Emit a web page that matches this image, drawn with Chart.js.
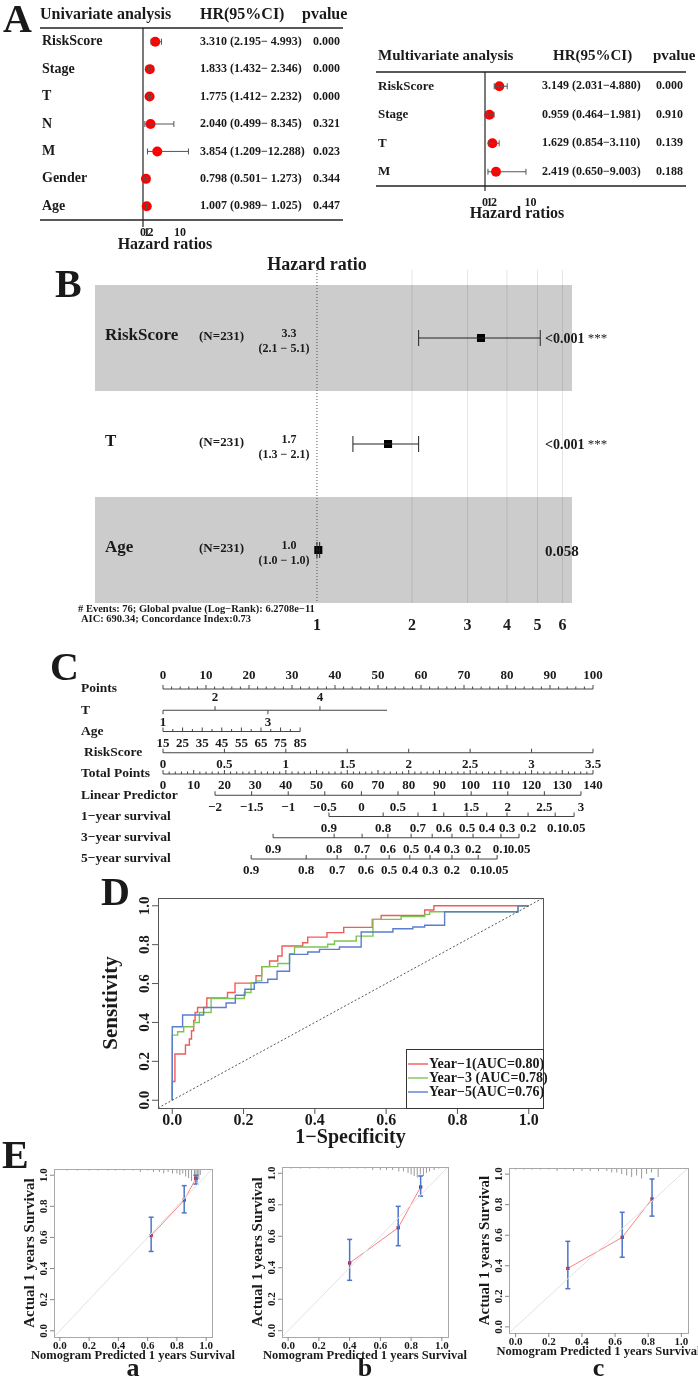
<!DOCTYPE html>
<html>
<head>
<meta charset="utf-8">
<title>Risk model figure</title>
<script src="https://cdn.jsdelivr.net/npm/chart.js@4.4.1/dist/chart.umd.min.js"></script>
<style>
  body { margin: 0; background: #fff; }
  #fig { position: relative; width: 698px; height: 1379px; overflow: hidden; background: #fff; }
  #fig canvas { position: absolute; left: 0; top: 0; }
</style>
</head>
<body>
<div id="fig"></div>
<script>
// ---------- A: univariate cox
const uniVars = ['RiskScore', 'Stage', 'T', 'N', 'M', 'Gender', 'Age'];
const uniHR = [3.310, 1.833, 1.775, 2.040, 3.854, 0.798, 1.007];
const uniLow = [2.195, 1.432, 1.412, 0.499, 1.209, 0.501, 0.989];
const uniHigh = [4.993, 2.346, 2.232, 8.345, 12.288, 1.273, 1.025];
const uniP = ['0.000', '0.000', '0.000', '0.321', '0.023', '0.344', '0.447'];

// ---------- A: multivariate cox
const multiVars = ['RiskScore', 'Stage', 'T', 'M'];
const multiHR = [3.149, 0.959, 1.629, 2.419];
const multiLow = [2.031, 0.464, 0.854, 0.650];
const multiHigh = [4.880, 1.981, 3.110, 9.003];
const multiP = ['0.000', '0.910', '0.139', '0.188'];
const hrTicks = [0, 1, 2, 10];

// ---------- B: forest plot
const coxVars = ['RiskScore', 'T', 'Age'];
const coxN = [231, 231, 231];
const coxHR = [3.31, 1.68, 1.01];
const coxLow = [2.1, 1.3, 1.0];
const coxHigh = [5.1, 2.1, 1.02];
const coxP = ['<0.001', '<0.001', '0.058'];
const coxStars = ['***', '***', ''];
const coxTicks = [1, 2, 3, 4, 5, 6];
const coxFooter = ['# Events: 76; Global pvalue (Log\u2212Rank): 6.2708e\u221211', 'AIC: 690.34; Concordance Index:0.73'];

// ---------- C: nomogram (positions on the 0-100 points scale)
const nomoRows = ['Points', 'T', 'Age', 'RiskScore', 'Total Points', 'Linear Predictor', '1\u2212year survival', '3\u2212year survival', '5\u2212year survival'];
const pointsTicks = [0, 10, 20, 30, 40, 50, 60, 70, 80, 90, 100];
const tLevels = ['1', '2', '3', '4'];
const tPoints = [0, 12.1, 24.4, 36.5];
const tLineEnd = 52.1;
const ageTicks = [15, 25, 35, 45, 55, 65, 75, 85];
const ageMaxPoints = 31.9;
const riskTicks = [0, 0.5, 1, 1.5, 2, 2.5, 3, 3.5];
const totalTicks = [0, 10, 20, 30, 40, 50, 60, 70, 80, 90, 100, 110, 120, 130, 140];
const lpTicks = [-2, -1.5, -1, -0.5, 0, 0.5, 1, 1.5, 2, 2.5, 3];
const lpPointsRange = [12.1, 97.2];
const survTicks = ['0.9', '0.8', '0.7', '0.6', '0.5', '0.4', '0.3', '0.2', '0.1', '0.05'];
const surv1Points = [38.6, 51.2, 59.3, 65.3, 70.7, 75.3, 80.0, 84.9, 91.2, 95.6];
const surv3Points = [25.6, 39.8, 46.3, 52.3, 57.7, 62.6, 67.2, 72.1, 78.6, 82.8];
const surv5Points = [20.5, 33.3, 40.5, 47.2, 52.6, 57.4, 62.1, 67.2, 73.3, 77.7];

// ---------- D: time dependent ROC
const rocFpr1 = [0, 0, 0.0075, 0.037, 0.048, 0.054, 0.06, 0.064, 0.071, 0.097, 0.155, 0.176, 0.235, 0.251, 0.273, 0.296, 0.308, 0.366, 0.38, 0.434, 0.481, 0.561, 0.586, 0.708, 0.734, 1.0];
const rocTpr1 = [0, 0.096, 0.238, 0.284, 0.315, 0.357, 0.41, 0.451, 0.477, 0.526, 0.554, 0.602, 0.64, 0.687, 0.716, 0.742, 0.793, 0.81, 0.839, 0.862, 0.889, 0.93, 0.95, 0.978, 1.0, 1.0];
const rocFpr3 = [0, 0, 0.015, 0.032, 0.06, 0.076, 0.109, 0.202, 0.221, 0.235, 0.251, 0.296, 0.329, 0.343, 0.436, 0.455, 0.516, 0.563, 0.642, 0.708, 0.722, 0.97, 1.0];
const rocTpr3 = [0, 0.335, 0.352, 0.378, 0.4, 0.451, 0.523, 0.554, 0.605, 0.614, 0.687, 0.703, 0.754, 0.788, 0.802, 0.819, 0.844, 0.93, 0.944, 0.956, 0.969, 1.0, 1.0];
const rocFpr5 = [0, 0, 0.029, 0.088, 0.151, 0.177, 0.204, 0.23, 0.268, 0.294, 0.329, 0.38, 0.413, 0.469, 0.53, 0.619, 0.675, 0.708, 0.764, 0.97, 1.0];
const rocTpr5 = [0, 0.378, 0.438, 0.477, 0.5, 0.54, 0.571, 0.605, 0.622, 0.663, 0.75, 0.762, 0.776, 0.788, 0.865, 0.882, 0.891, 0.9, 0.969, 1.0, 1.0];
const rocLabels = ['Year\u22121(AUC=0.80)', 'Year\u22123 (AUC=0.78)', 'Year\u22125(AUC=0.76)'];
const rocTicks = [0, 0.2, 0.4, 0.6, 0.8, 1.0];

// ---------- E: calibration
const calPredA = [0.624, 0.85, 0.93], calObsA = [0.612, 0.84, 0.98], calLoA = [0.51, 0.758, 0.943], calHiA = [0.73, 0.933, 1.0];
const calPredB = [0.40, 0.716, 0.862], calObsB = [0.43, 0.654, 0.913], calLoB = [0.32, 0.54, 0.855], calHiB = [0.58, 0.79, 0.983];
const calPredC = [0.315, 0.643, 0.823], calObsC = [0.383, 0.586, 0.838], calLoC = [0.25, 0.456, 0.725], calHiC = [0.56, 0.75, 0.968];
const rugXA = [0.05, 0.12, 0.2, 0.26, 0.33, 0.38, 0.44, 0.5, 0.55, 0.6, 0.64, 0.68, 0.71, 0.74, 0.77, 0.8, 0.82, 0.84, 0.86, 0.88, 0.9, 0.92, 0.93, 0.94, 0.95, 0.96];
const rugNA = [1, 1, 1, 1, 1, 1, 1, 1, 2, 1, 2, 2, 3, 2, 3, 3, 4, 3, 5, 6, 8, 7, 5, 9, 7, 4];
const rugXB = [0.02, 0.08, 0.14, 0.2, 0.26, 0.3, 0.35, 0.4, 0.45, 0.5, 0.55, 0.6, 0.64, 0.68, 0.72, 0.75, 0.78, 0.8, 0.82, 0.84, 0.86, 0.88, 0.9, 0.92, 0.95, 0.98];
const rugNB = [1, 1, 1, 1, 1, 1, 1, 1, 1, 1, 2, 2, 2, 2, 3, 3, 4, 5, 6, 7, 5, 6, 4, 3, 2, 1];
const rugXC = [0.0, 0.05, 0.1, 0.15, 0.2, 0.25, 0.3, 0.35, 0.4, 0.45, 0.5, 0.55, 0.58, 0.61, 0.64, 0.67, 0.7, 0.73, 0.76, 0.79, 0.82, 0.86];
const rugNC = [1, 1, 1, 1, 1, 2, 1, 2, 2, 2, 2, 2, 3, 3, 4, 5, 6, 5, 7, 4, 3, 6];
const calTicks = [0, 0.2, 0.4, 0.6, 0.8, 1.0];

// ---------- helpers
const W = 698, H = 1379;
const FONT = '"Liberation Serif", "Times New Roman", serif';
const INK = '#1a1a1a';
Chart.defaults.font.family = FONT;
const fig = document.getElementById('fig');

function txt(ctx, s, x, y, size, o) {
  o = o || {};
  ctx.save();
  ctx.font = (o.weight || 'bold') + ' ' + size + 'px ' + FONT;
  ctx.fillStyle = o.color || INK;
  ctx.textAlign = o.align || 'left';
  ctx.textBaseline = o.base || 'middle';
  ctx.translate(x, y);
  if (o.rot) ctx.rotate(o.rot);
  ctx.fillText(s, 0, 0);
  const w = ctx.measureText(s).width;
  ctx.restore();
  return w;
}

function seg(ctx, x1, y1, x2, y2, color, w, dash) {
  ctx.save();
  ctx.beginPath();
  ctx.strokeStyle = color;
  ctx.lineWidth = w || 1;
  if (dash) ctx.setLineDash(dash);
  ctx.moveTo(x1, y1);
  ctx.lineTo(x2, y2);
  ctx.stroke();
  ctx.restore();
}

function panel(box, xs, ys, datasets, hooks) {
  const cv = document.createElement('canvas');
  cv.width = W; cv.height = H;
  fig.appendChild(cv);
  return new Chart(cv, {
    type: 'scatter',
    data: { datasets: datasets.map(d => Object.assign({ clip: false }, d)) },
    options: {
      responsive: false, animation: false, events: [],
      layout: { padding: { left: box[0], top: box[1], right: W - box[2], bottom: H - box[3] } },
      scales: {
        x: Object.assign({ display: false, bounds: 'data' }, xs),
        y: Object.assign({ display: false, bounds: 'data' }, ys)
      },
      plugins: { legend: { display: false }, tooltip: { enabled: false }, colors: { enabled: false } }
    },
    plugins: [{
      id: 'deco',
      beforeDatasetsDraw: c => hooks.before && hooks.before(c, c.ctx, c.scales.x, c.scales.y),
      afterDatasetsDraw: c => hooks.after && hooks.after(c, c.ctx, c.scales.x, c.scales.y)
    }]
  });
}

// horizontal CI segments with end caps
function ciSets(lo, hi, rows, color, cap, width) {
  return lo.map((l, i) => ({
    data: [{ x: l, y: rows[i] }, { x: hi[i], y: rows[i] }],
    showLine: true, borderColor: color, borderWidth: width, backgroundColor: color,
    pointStyle: 'line', rotation: 90, pointRadius: cap, pointBorderWidth: width, pointBorderColor: color
  }));
}

function hrLabel(hr, lo, hi, pad) {
  const h = hi.toFixed(3);
  return hr.toFixed(3) + ' (' + lo.toFixed(3) + '\u2212' + (pad ? h.padStart(6, ' ') : h) + ')';
}

// ---------- A left
panel([143, 28, 217, 220],
  { type: 'linear', min: 0, max: 20 },
  { type: 'linear', min: -0.5, max: uniVars.length - 0.5, reverse: true },
  [...ciSets(uniLow, uniHigh, uniVars.map((_, i) => i), '#555', 3, 1),
   { data: uniHR.map((v, i) => ({ x: v, y: i })), pointRadius: 5, pointBackgroundColor: '#ff0000', pointBorderColor: '#ff0000', pointBorderWidth: 0 }],
  {
    before: (c, ctx, x) => {
      seg(ctx, 40, 28, 343, 28, '#222', 1.5);
      seg(ctx, 40, 220, 343, 220, '#222', 1.5);
      seg(ctx, x.getPixelForValue(0), 28, x.getPixelForValue(0), 227, '#222', 1.2);
    },
    after: (c, ctx, x, y) => {
      txt(ctx, 'A', 3, 32, 40, { base: 'alphabetic' });
      txt(ctx, 'Univariate analysis', 40, 15, 16);
      txt(ctx, 'HR(95%CI)', 200, 15, 16);
      txt(ctx, 'pvalue', 302, 15, 16);
      uniVars.forEach((v, i) => {
        const py = y.getPixelForValue(i);
        txt(ctx, v, 42, py, 14);
        txt(ctx, hrLabel(uniHR[i], uniLow[i], uniHigh[i], true), 200, py, 12);
        txt(ctx, uniP[i], 313, py, 12);
      });
      hrTicks.forEach(t => txt(ctx, String(t), x.getPixelForValue(t), 233, 12, { align: 'center' }));
      txt(ctx, 'Hazard ratios', 165, 245, 16, { align: 'center' });
    }
  });

// ---------- A right
panel([485, 72, 576, 186],
  { type: 'linear', min: 0, max: 20 },
  { type: 'linear', min: -0.5, max: multiVars.length - 0.5, reverse: true },
  [...ciSets(multiLow, multiHigh, multiVars.map((_, i) => i), '#555', 3, 1),
   { data: multiHR.map((v, i) => ({ x: v, y: i })), pointRadius: 5, pointBackgroundColor: '#ff0000', pointBorderColor: '#ff0000', pointBorderWidth: 0 }],
  {
    before: (c, ctx, x) => {
      seg(ctx, 376, 72, 686, 72, '#222', 1.5);
      seg(ctx, 376, 186, 686, 186, '#222', 1.5);
      seg(ctx, x.getPixelForValue(0), 72, x.getPixelForValue(0), 191, '#222', 1.2);
    },
    after: (c, ctx, x, y) => {
      txt(ctx, 'Multivariate analysis', 378, 56, 15);
      txt(ctx, 'HR(95%CI)', 553, 56, 15);
      txt(ctx, 'pvalue', 653, 56, 15);
      multiVars.forEach((v, i) => {
        const py = y.getPixelForValue(i);
        txt(ctx, v, 378, py, 13);
        txt(ctx, hrLabel(multiHR[i], multiLow[i], multiHigh[i], false), 542, py, 12);
        txt(ctx, multiP[i], 656, py, 12);
      });
      hrTicks.forEach(t => txt(ctx, String(t), x.getPixelForValue(t), 203, 12, { align: 'center' }));
      txt(ctx, 'Hazard ratios', 517, 214, 16, { align: 'center' });
    }
  });

// ---------- B forest plot
panel([95, 285, 572, 603],
  { type: 'logarithmic', min: 0.198, max: 6.43 },
  { type: 'linear', min: -0.5, max: coxVars.length - 0.5, reverse: true },
  [...ciSets(coxLow, coxHigh, coxVars.map((_, i) => i), '#222', 8, 1),
   { data: coxHR.map((v, i) => ({ x: v, y: i })), pointStyle: 'rect', pointRadius: 5.7, pointBackgroundColor: '#000', pointBorderColor: '#000', pointBorderWidth: 0 }],
  {
    before: (c, ctx, x, y) => {
      const a = c.chartArea;
      ctx.save();
      ctx.fillStyle = '#cccccc';
      coxVars.forEach((v, i) => {
        if (i % 2 === 0) {
          const t = y.getPixelForValue(i - 0.5), b = y.getPixelForValue(i + 0.5);
          ctx.fillRect(a.left, t, a.right - a.left, b - t);
        }
      });
      ctx.restore();
      coxTicks.slice(1).forEach(t => {
        const px = x.getPixelForValue(t);
        seg(ctx, px, 270, px, a.bottom, 'rgba(0,0,0,0.1)', 1);
      });
      const p1 = x.getPixelForValue(1);
      seg(ctx, p1, 270, p1, a.bottom, '#555', 1, [1, 2]);
    },
    after: (c, ctx, x, y) => {
      txt(ctx, 'B', 55, 297, 40, { base: 'alphabetic' });
      txt(ctx, 'Hazard ratio', x.getPixelForValue(1), 265, 18, { align: 'center' });
      coxVars.forEach((v, i) => {
        const cy = y.getPixelForValue(i);
        txt(ctx, v, 105, cy - 2, 17);
        txt(ctx, '(N=' + coxN[i] + ')', 199, cy - 1, 13);
        txt(ctx, coxHR[i].toFixed(1), 289, cy - 4, 12, { align: 'center' });
        txt(ctx, '(' + coxLow[i].toFixed(1) + ' \u2212 ' + coxHigh[i].toFixed(1) + ')', 284, cy + 11, 12, { align: 'center' });
        if (coxStars[i]) {
          const w = txt(ctx, coxP[i], 545, cy + 1, 14);
          txt(ctx, ' ' + coxStars[i], 545 + w, cy + 1, 13, { weight: 'normal' });
        } else {
          txt(ctx, coxP[i], 545, cy + 2, 15);
        }
      });
      coxTicks.forEach(t => txt(ctx, String(t), x.getPixelForValue(t), 626, 16, { align: 'center' }));
      txt(ctx, coxFooter[0], 78, 609, 10.5);
      txt(ctx, coxFooter[1], 81, 619, 10.5);
    }
  });

// ---------- C nomogram
function spread(vals, p0, p1) {
  const v0 = vals[0], v1 = vals[vals.length - 1];
  return vals.map(v => p0 + (v - v0) / (v1 - v0) * (p1 - p0));
}
const nomoAxes = [
  { at: pointsTicks, labels: pointsTicks.map(String), above: true, minor: 5 },
  { at: tPoints, labels: tLevels, end: tLineEnd, alt: true },
  { at: spread(ageTicks, 0, ageMaxPoints), labels: ageTicks.map(String), minor: 2 },
  { at: spread(riskTicks, 0, 100), labels: riskTicks.map(String) },
  { at: spread(totalTicks, 0, 100), labels: totalTicks.map(String), minor: 5 },
  { at: spread(lpTicks, lpPointsRange[0], lpPointsRange[1]), labels: lpTicks.map(v => v < 0 ? '\u2212' + Math.abs(v) : String(v)) },
  { at: surv1Points, labels: survTicks },
  { at: surv3Points, labels: survTicks },
  { at: surv5Points, labels: survTicks }
];

panel([163, 689, 593, 859],
  { type: 'linear', min: 0, max: 100 },
  { type: 'linear', min: 0, max: nomoRows.length - 1, reverse: true },
  nomoAxes.map((ax, r) => ({
    data: [{ x: ax.at[0], y: r }, { x: ax.end !== undefined ? ax.end : ax.at[ax.at.length - 1], y: r }],
    showLine: true, borderColor: '#444', borderWidth: 1.2, pointRadius: 0
  })),
  {
    after: (c, ctx, x, y) => {
      txt(ctx, 'C', 50, 680, 40, { base: 'alphabetic' });
      nomoRows.forEach((name, r) => {
        const py = y.getPixelForValue(r);
        txt(ctx, name, name === 'RiskScore' ? 84 : 81, py, 13.5);
        const ax = nomoAxes[r];
        ax.at.forEach((p, k) => {
          const px = x.getPixelForValue(p);
          const above = ax.alt ? k % 2 === 1 : !!ax.above;
          const dir = ax.alt && !above ? 1 : -1;
          seg(ctx, px, py, px, py + dir * 4, '#444', 1);
          txt(ctx, ax.labels[k], px, above ? py - 13 : py + 12, 13, { align: 'center' });
          if (ax.minor && k < ax.at.length - 1) {
            const nx = x.getPixelForValue(ax.at[k + 1]);
            for (let m = 1; m < ax.minor; m++) {
              const mx = px + (nx - px) * m / ax.minor;
              seg(ctx, mx, py, mx, py - 2.5, '#444', 1);
            }
          }
        });
      });
    }
  });

// ---------- D ROC
const rocSets = [
  { fpr: rocFpr1, tpr: rocTpr1, color: '#f25a5a' },
  { fpr: rocFpr3, tpr: rocTpr3, color: '#7cc552' },
  { fpr: rocFpr5, tpr: rocTpr5, color: '#5a7dd0' }
];
panel([158, 898, 543, 1108],
  { type: 'linear', min: -0.04, max: 1.04 },
  { type: 'linear', min: -0.04, max: 1.04 },
  [{ data: [{ x: -0.04, y: -0.04 }, { x: 1.04, y: 1.04 }], showLine: true, borderColor: '#555', borderWidth: 1, borderDash: [2, 2], pointRadius: 0 },
   ...rocSets.slice().reverse().map(s => ({
     data: s.fpr.map((f, i) => ({ x: f, y: s.tpr[i] })),
     showLine: true, stepped: 'before', borderColor: s.color, borderWidth: 1.4, pointRadius: 0
   }))],
  {
    after: (c, ctx, x, y) => {
      const a = c.chartArea;
      ctx.save();
      ctx.strokeStyle = '#555';
      ctx.lineWidth = 1;
      ctx.strokeRect(a.left + 0.5, a.top + 0.5, a.right - a.left, a.bottom - a.top);
      ctx.restore();
      rocTicks.forEach(t => {
        const px = x.getPixelForValue(t), py = y.getPixelForValue(t);
        seg(ctx, a.left - 6, py, a.left, py, '#555', 1);
        seg(ctx, px, a.bottom, px, a.bottom + 6, '#555', 1);
        txt(ctx, t.toFixed(1), 145, py, 15, { align: 'center', rot: -Math.PI / 2 });
        txt(ctx, t.toFixed(1), px, 1121, 16, { align: 'center' });
      });
      txt(ctx, 'Sensitivity', 112, (a.top + a.bottom) / 2, 21, { align: 'center', rot: -Math.PI / 2 });
      txt(ctx, '1\u2212Specificity', (a.left + a.right) / 2, 1138, 20, { align: 'center' });
      // legend
      ctx.save();
      ctx.fillStyle = '#fff';
      ctx.fillRect(406, 1049, a.right - 406, a.bottom - 1049);
      ctx.strokeStyle = '#333';
      ctx.strokeRect(406.5, 1049.5, a.right - 406, a.bottom - 1049);
      ctx.restore();
      rocSets.forEach((s, i) => {
        const ly = 1064 + i * 14;
        seg(ctx, 408, ly, 428, ly, s.color, 1.4);
        txt(ctx, rocLabels[i], 429, ly, 14);
      });
      txt(ctx, 'D', 101, 905, 40, { base: 'alphabetic' });
    }
  });

// ---------- E calibration
function calPanel(box, pred, obs, lo, hi, rugX, rugN, tag) {
  panel(box,
    { type: 'linear', min: -0.04, max: 1.04 },
    { type: 'linear', min: -0.04, max: 1.04 },
    [{ data: [{ x: -0.04, y: -0.04 }, { x: 1.04, y: 1.04 }], showLine: true, borderColor: '#e2e2e2', borderWidth: 1, pointRadius: 0 },
     ...pred.map((p, i) => ({
       data: [{ x: p, y: lo[i] }, { x: p, y: hi[i] }],
       showLine: true, borderColor: '#4f74c8', borderWidth: 1.5,
       pointStyle: 'line', rotation: 0, pointRadius: 2.5, pointBorderColor: '#4f74c8', pointBorderWidth: 1.5
     })),
     { data: pred.map((p, i) => ({ x: p, y: obs[i] })), showLine: true, borderColor: '#ff8080', borderWidth: 1,
       pointStyle: 'rect', pointRadius: 2.3, pointBackgroundColor: '#b3122e', pointBorderColor: '#b3122e', pointBorderWidth: 0 }],
    {
      before: (c, ctx, x) => {
        const a = c.chartArea;
        rugX.forEach((r, i) => {
          const px = x.getPixelForValue(r);
          seg(ctx, px, a.top, px, a.top + rugN[i] * 1.5, '#9a9a9a', 1);
        });
      },
      after: (c, ctx, x, y) => {
        const a = c.chartArea;
        ctx.save();
        ctx.strokeStyle = '#a8a8a8';
        ctx.lineWidth = 1;
        ctx.strokeRect(a.left + 0.5, a.top + 0.5, a.right - a.left, a.bottom - a.top);
        ctx.restore();
        calTicks.forEach(t => {
          const px = x.getPixelForValue(t), py = y.getPixelForValue(t);
          seg(ctx, a.left - 4, py, a.left, py, '#888', 1);
          seg(ctx, px, a.bottom, px, a.bottom + 4, '#888', 1);
          txt(ctx, t.toFixed(1), a.left - 10, py, 11, { align: 'center', rot: -Math.PI / 2 });
          txt(ctx, t.toFixed(1), px, a.bottom + 9, 11, { align: 'center' });
        });
        txt(ctx, 'Actual 1 years Survival', a.left - 24, (a.top + a.bottom) / 2, 15, { align: 'center', rot: -Math.PI / 2 });
        txt(ctx, 'Nomogram Predicted 1 years Survival', (a.left + a.right) / 2, a.bottom + 19, 12.5, { align: 'center' });
        txt(ctx, tag, (a.left + a.right) / 2, 1369, 26, { align: 'center' });
      }
    });
}
calPanel([54, 1169, 212, 1337], calPredA, calObsA, calLoA, calHiA, rugXA, rugNA, 'a');
calPanel([282, 1167, 448, 1337], calPredB, calObsB, calLoB, calHiB, rugXB, rugNB, 'b');
calPanel([509, 1168, 688, 1333], calPredC, calObsC, calLoC, calHiC, rugXC, rugNC, 'c');

// panel letter E
(function () {
  const cv = document.createElement('canvas');
  cv.width = W; cv.height = H;
  fig.appendChild(cv);
  txt(cv.getContext('2d'), 'E', 2, 1168, 40, { base: 'alphabetic' });
})();
</script>
</body>
</html>
